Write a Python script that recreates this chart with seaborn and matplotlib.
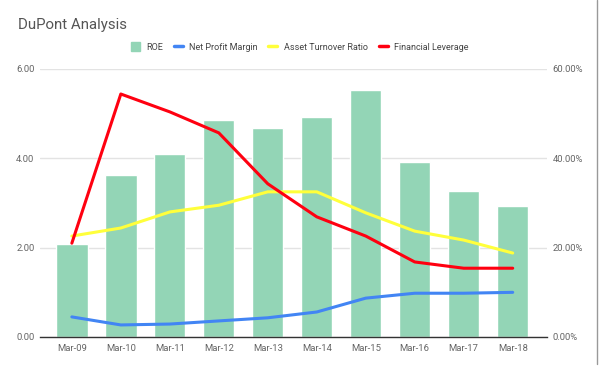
import numpy as np
import pandas as pd
import seaborn as sns
import matplotlib.pyplot as plt
from matplotlib.lines import Line2D
from matplotlib.patches import Patch
from matplotlib.ticker import FuncFormatter

# --- data ---
months = ["Mar-09", "Mar-10", "Mar-11", "Mar-12", "Mar-13",
          "Mar-14", "Mar-15", "Mar-16", "Mar-17", "Mar-18"]
roe = [0.208, 0.363, 0.410, 0.486, 0.468, 0.493, 0.553, 0.392, 0.327, 0.293]
net_profit_margin = [0.45, 0.27, 0.29, 0.36, 0.43, 0.56, 0.87, 0.98, 0.98, 1.00]
asset_turnover = [2.26, 2.44, 2.80, 2.95, 3.25, 3.25, 2.78, 2.37, 2.17, 1.88]
fin_leverage = [2.10, 5.44, 5.04, 4.57, 3.43, 2.69, 2.26, 1.68, 1.54, 1.54]

c_roe = "#93d5b6"
c_npm = "#4285f4"
c_atr = "#ffff3b"
c_fl = "#ff0010"
grey = "#666666"

sns.set_theme(style="white")
plt.rcParams["font.family"] = ["Roboto", "DejaVu Sans"]

fig = plt.figure(figsize=(5.99, 3.71), dpi=100)
ax = fig.add_axes([40 / 599, 34 / 371, 507 / 599, 268 / 371])
ax2 = ax.twinx()

# bars on the right (percent) axis
df_bar = pd.DataFrame({"month": months, "roe": roe})
sns.barplot(data=df_bar, x="month", y="roe", color=c_roe, saturation=1,
            width=0.64, ax=ax2, zorder=2)
ax2.set_ylim(0, 0.6)
ax2.set_yticks([0, 0.2, 0.4, 0.6])
ax2.yaxis.set_major_formatter(FuncFormatter(lambda v, p: f"{v * 100:.2f}%"))
ax2.grid(axis="y", color="#e3e3e3", linewidth=1, zorder=0)
ax2.set_axisbelow(True)

# lines on the left axis
df_lines = pd.DataFrame({"pos": np.arange(len(months)),
                         "npm": net_profit_margin,
                         "atr": asset_turnover,
                         "fl": fin_leverage})
sns.lineplot(data=df_lines, x="pos", y="npm", color=c_npm, lw=2.2, ax=ax)
sns.lineplot(data=df_lines, x="pos", y="atr", color=c_atr, lw=2.2, ax=ax)
sns.lineplot(data=df_lines, x="pos", y="fl", color=c_fl, lw=2.2, ax=ax)
ax.set_ylim(0, 6)
ax.set_yticks([0, 2, 4, 6])
ax.yaxis.set_major_formatter(FuncFormatter(lambda v, p: f"{v:.2f}"))
ax.set_zorder(ax2.get_zorder() + 1)
ax.patch.set_visible(False)

ax.set_xlim(-0.65, 9.7)
ax.set_xticks(np.arange(len(months)))
ax.set_xticklabels(months)

for a in (ax, ax2):
    a.set_xlabel("")
    a.set_ylabel("")
    for s in a.spines.values():
        s.set_visible(False)
    a.tick_params(length=0, labelsize=6.8, colors=grey, pad=4)
ax.spines["bottom"].set_visible(True)
ax.spines["bottom"].set_color("#333333")
ax.spines["bottom"].set_linewidth(1)
ax.tick_params(axis="x", pad=5)

fig.text(18 / 599, 1 - 25 / 371, "DuPont Analysis", fontsize=10.8,
         color="#555555", va="center", ha="left")

handles = [Patch(color=c_roe),
           Line2D([], [], color=c_npm, lw=2.5),
           Line2D([], [], color=c_atr, lw=2.5),
           Line2D([], [], color=c_fl, lw=2.5)]
labels = ["ROE", "Net Profit Margin", "Asset Turnover Ratio", "Financial Leverage"]
fig.legend(handles, labels, loc="center", bbox_to_anchor=(0.5, 1 - 47 / 371),
           ncol=4, frameon=False, fontsize=6.5, handlelength=1.0, handleheight=1.0,
           handletextpad=0.7, columnspacing=1.2, labelcolor="#444444")

# right edge border of the sheet
fig.add_artist(Line2D([597 / 599, 597 / 599], [0.02, 1], color="#999999", lw=1))

fig.savefig("out.png", dpi=100)
